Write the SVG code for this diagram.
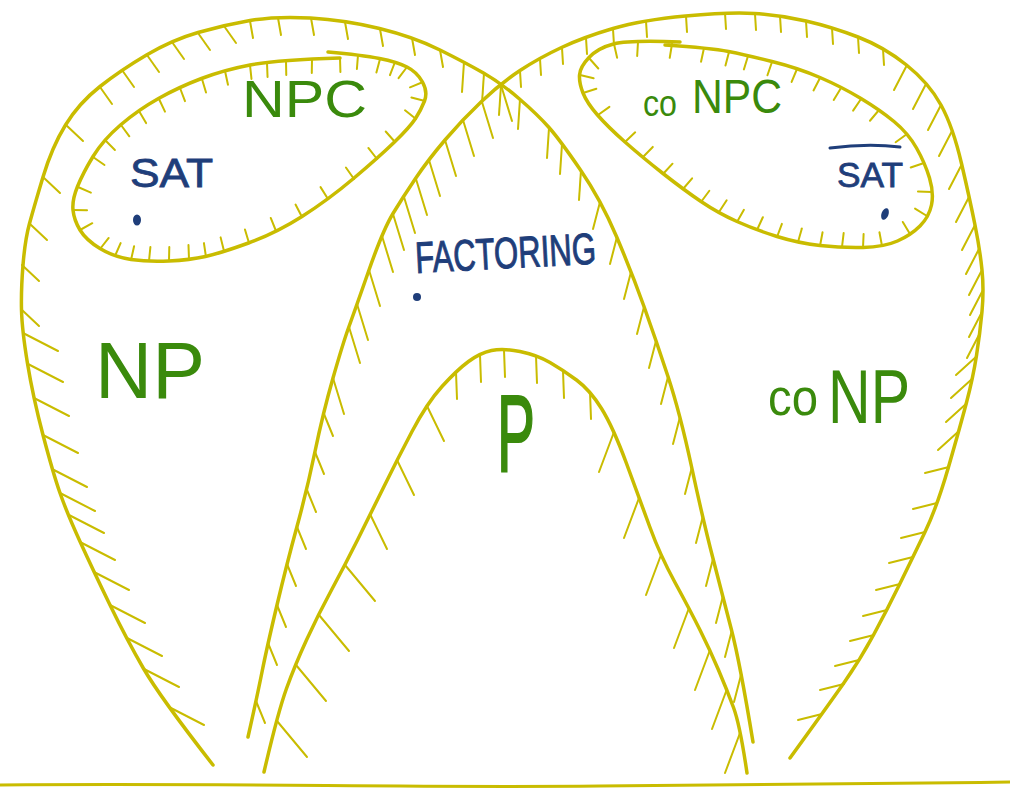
<svg xmlns="http://www.w3.org/2000/svg" width="1010" height="791" viewBox="0 0 1010 791">
<style>
.ol{fill:none;stroke:#c9bc00;stroke-width:3.5;stroke-linecap:round;stroke-linejoin:round}
.tk{fill:none;stroke:#c9bc00;stroke-width:2;stroke-linecap:round}
.hc{fill:none;stroke:none}
.gt{fill:#3a8a0c;font-family:'Liberation Sans',Arial,sans-serif}
.bt{fill:#1f3e7a;font-family:'Liberation Sans',Arial,sans-serif}
.bl{fill:none;stroke:#1f3e7a;stroke-width:3;stroke-linecap:round}
</style>
<defs>
<marker id="npL" markerUnits="userSpaceOnUse" overflow="visible"><path class="tk" d="M0,0L35,18"/></marker>
<marker id="npUL" markerUnits="userSpaceOnUse" overflow="visible"><path class="tk" d="M0,0L17,16"/></marker>
<marker id="npTa" markerUnits="userSpaceOnUse" overflow="visible"><path class="tk" d="M0,0L12,17"/></marker>
<marker id="npTb" markerUnits="userSpaceOnUse" overflow="visible"><path class="tk" d="M0,0L3,17"/></marker>
<marker id="npRU" markerUnits="userSpaceOnUse" overflow="visible"><path class="tk" d="M0,0L-2,30"/></marker>
<marker id="npR" markerUnits="userSpaceOnUse" overflow="visible"><path class="tk" d="M0,0L-7,27"/></marker>
<marker id="coL1" markerUnits="userSpaceOnUse" overflow="visible"><path class="tk" d="M0,0L9,22"/></marker>
<marker id="coL2" markerUnits="userSpaceOnUse" overflow="visible"><path class="tk" d="M0,0L11,36"/></marker>
<marker id="coT" markerUnits="userSpaceOnUse" overflow="visible"><path class="tk" d="M0,0L1,16"/></marker>
<marker id="coR1" markerUnits="userSpaceOnUse" overflow="visible"><path class="tk" d="M0,0L-13,25"/></marker>
<marker id="coR2" markerUnits="userSpaceOnUse" overflow="visible"><path class="tk" d="M0,0L-21,19"/></marker>
<marker id="coR3" markerUnits="userSpaceOnUse" overflow="visible"><path class="tk" d="M0,0L-24,6"/></marker>
<marker id="pL1" markerUnits="userSpaceOnUse" overflow="visible"><path class="tk" d="M0,0L30,36"/></marker>
<marker id="pL2" markerUnits="userSpaceOnUse" overflow="visible"><path class="tk" d="M0,0L17,35"/></marker>
<marker id="pT" markerUnits="userSpaceOnUse" overflow="visible"><path class="tk" d="M0,0L1,27"/></marker>
<marker id="pR" markerUnits="userSpaceOnUse" overflow="visible"><path class="tk" d="M0,0L-15,40"/></marker>
<marker id="inCW" markerUnits="userSpaceOnUse" overflow="visible" orient="auto"><path class="tk" d="M0,0L-1,14"/></marker>
<marker id="inCCW" markerUnits="userSpaceOnUse" overflow="visible" orient="auto"><path class="tk" d="M0,0L1,-14"/></marker>
</defs>

<g id="ground">
<path class="ol" style="stroke-width:3" d="M0,785 C250,783 400,788 600,786 S900,784 1010,782"/>
</g>

<g id="np">
<path class="ol" d="M213,765 Q160,697 143.5,668.5 Q127,640 110,605 Q93,570 80,541.5 Q67,513 60,493 Q53,473 43,435 Q33,397 27.5,363.5 Q22,330 21.5,310 Q21,290 23,265 Q25,240 29.5,223.5 Q34,207 43,177 Q52,147 65.5,125 Q79,103 100,86.5 Q121,70 146.5,55 Q172,40 198,32.5 Q224,25 250,20.5 Q276,16 310.5,18 Q345,20 379.5,28.5 Q414,37 440,50 Q466,63 483.5,73 Q501,83 519.5,99 Q538,115 549,127.5 Q560,140 580.5,170 Q601,200 616.5,236.5 Q632,273 644,306.5 Q656,340 668,376.5 Q680,413 691.5,466.5 Q703,520 713,558.5 Q723,597 731.5,630 Q740,663 753,742"/>
<path class="hc" marker-mid="url(#npL)" d="M213,765 L169,707 L144,669 L127,638 L110,605 L94,572 L80,542 L69,515 L60,493 L52,469 L43,435 L34,398 L28,364 L23,333 L22,310"/>
<path class="hc" marker-mid="url(#npUL)" d="M23,333 L22,310 L22,265 L30,224 L43,177 L66,125 L100,87"/>
<path class="hc" marker-mid="url(#npTa)" d="M66,125 L100,87 L122,70 L147,55 L172,42 L198,33 L224,26 L250,21"/>
<path class="hc" marker-mid="url(#npTb)" d="M224,26 L250,21 L278,18 L311,18 L345,22 L380,29 L412,38 L440,50 L464,62"/>
<path class="hc" marker-mid="url(#npRU)" d="M440,50 L464,62 L484,73 L501,85 L520,99 L549,128 L562,144 L581,170 L600,202"/>
<path class="hc" marker-mid="url(#npR)" d="M581,170 L600,202 L617,237 L631,272 L644,307 L656,341 L668,377 L680,417 L692,467 L703,516 L713,559 L723,596 L732,630 L741,675 L753,742"/>
<text class="gt" x="95" y="398" font-size="80" textLength="110" lengthAdjust="spacingAndGlyphs">NP</text>
</g>

<g id="conp">
<path class="ol" d="M248,737 Q257,697 262,672 Q267,647 277,605 Q287,563 297,526.5 Q307,490 315,451.5 Q323,413 333,378 Q343,343 349,326.5 Q355,310 369,270 Q383,230 393,213.5 Q403,197 415.5,178.5 Q428,160 445,140 Q462,120 481.5,101.5 Q501,83 520,70.5 Q539,58 561.5,47.5 Q584,37 613,28.5 Q642,20 685.5,16 Q729,12 754.5,13.5 Q780,15 806,21 Q832,27 858,37 Q884,47 906.5,65 Q929,83 941,105 Q953,127 961.5,163.5 Q970,200 975,225 Q980,250 982,270 Q984,290 982,311.5 Q980,333 976.5,355.5 Q973,378 966.5,402.5 Q960,427 948.5,467 Q937,507 925,532 Q913,557 900,583.5 Q887,610 873.5,635 Q860,660 843.5,683.5 Q827,707 790,758"/>
<path class="hc" marker-mid="url(#coL1)" d="M248,737 L256,701 L268,643 L277,605 L287,564 L297,527 L307,490 L315,452 L324,414 L333,378"/>
<path class="hc" marker-mid="url(#coL2)" d="M324,414 L333,378 L349,327 L357,304 L369,270 L382,236 L393,214 L404,197 L416,179 L429,160 L445,140 L463,120 L482,102 L501,85 L520,71"/>
<path class="hc" marker-mid="url(#coT)" d="M501,85 L520,71 L540,59 L562,48 L586,38 L613,29 L646,21 L686,16 L725,13 L755,14 L780,16 L806,21 L832,28 L858,37 L883,49 L907,65"/>
<path class="hc" marker-mid="url(#coR1)" d="M883,49 L907,65 L926,84 L941,105 L952,131 L962,164 L969,197 L975,225 L979,249 L982,270 L983,290 L982,312 L980,333 L977,356"/>
<path class="hc" marker-mid="url(#coR2)" d="M980,333 L977,356 L972,379 L967,403 L959,431 L949,467"/>
<path class="hc" marker-mid="url(#coR3)" d="M959,431 L949,467 L937,503 L925,532 L913,557 L900,584 L887,610 L874,635 L859,660 L844,684 L822,714 L790,758"/>
<text class="gt" x="768" y="415" font-size="52" textLength="50" lengthAdjust="spacingAndGlyphs">co</text>
<text class="gt" x="828" y="423" font-size="76" textLength="82" lengthAdjust="spacingAndGlyphs">NP</text>
</g>

<g id="p">
<path class="ol" d="M264,772 Q278,712 286.5,688.5 Q295,665 306.5,640 Q318,615 331.5,590 Q345,565 357.5,540 Q370,515 383.5,487.5 Q397,460 412,431.5 Q427,403 442,386.5 Q457,370 468.5,361.5 Q480,353 491.5,350.5 Q503,348 520,351.5 Q537,355 550,362.5 Q563,370 576.5,380 Q590,390 601.5,408.5 Q613,427 626.5,463.5 Q640,500 650,527.5 Q660,555 675,582.5 Q690,610 700,630 Q710,650 718.5,670 Q727,690 733.5,707.5 Q740,725 747,773"/>
<path class="hc" marker-mid="url(#pL1)" d="M264,772 L277,721 L296,665 L319,615 L345,565 L370,514"/>
<path class="hc" marker-mid="url(#pL2)" d="M345,565 L370,514 L397,460 L427,406 L456,372"/>
<path class="hc" marker-mid="url(#pT)" d="M427,406 L456,372 L480,355 L504,350 L536,356 L563,371 L590,392 L614,432"/>
<path class="hc" marker-mid="url(#pR)" d="M590,392 L614,432 L639,498 L661,555 L689,608 L710,650 L727,689 L740,733 L747,773"/>
<text class="gt" x="497" y="471" font-size="110" textLength="38" lengthAdjust="spacingAndGlyphs" stroke="#3a8a0c" stroke-width="2">P</text>
</g>

<g id="npc">
<path class="ol" d="M328,52 Q362,55 379.5,58.5 Q397,62 407,67 Q417,72 422.5,82 Q428,92 424.5,101 Q421,110 415.5,118.5 Q410,127 394.5,142 Q379,157 353.5,178.5 Q328,200 302,216.5 Q276,233 248.5,243 Q221,253 205.5,256.5 Q190,260 169,261 Q148,262 131,259.5 Q114,257 100,248.5 Q86,240 80,230 Q74,220 73,210 Q72,200 77.5,186.5 Q83,173 93,156.5 Q103,140 120.5,125 Q138,110 158.5,98.5 Q179,87 201.5,78.5 Q224,70 250,65 Q276,60 340,58"/>
<path class="hc" marker-mid="url(#inCW)" d="M312,59 L340,58 L358,55 L380,59 L395,62 L407,67 L423,82 L425,101 L416,119 L395,142 L377,159 L354,179 L328,199 L302,217 L276,231 L249,243 L224,251 L206,257 L189,259 L169,261 L149,261 L131,260 L115,256 L100,249 L80,230 L73,210 L78,187 L93,157 L105,140 L121,125 L139,111 L159,99 L180,88 L202,79 L225,71 L250,65 L267,63 L286,61 L312,59 L340,58"/>
<text class="gt" x="242" y="117" font-size="52" textLength="125" lengthAdjust="spacingAndGlyphs">NPC</text>
</g>

<g id="conpc">
<path class="ol" d="M680,42 Q629,40 613.5,44 Q598,48 589,57.5 Q580,67 579.5,75 Q579,83 583,93 Q587,103 597.5,115 Q608,127 625,142 Q642,157 663,173.5 Q684,190 701,201.5 Q718,213 737,221.5 Q756,230 777,236.5 Q798,243 820,245.5 Q842,248 863,247.5 Q884,247 897.5,241 Q911,235 920,226 Q929,217 931.5,205 Q934,193 929.5,178 Q925,163 916.5,148 Q908,133 894,121.5 Q880,110 861,98.5 Q842,87 820,77.5 Q798,68 772,61.5 Q746,55 728.5,51.5 Q711,48 665,45"/>
<path class="hc" marker-mid="url(#inCCW)" d="M729,52 L704,48 L672,44 L638,42 L614,44 L589,58 L580,75 L583,93 L598,115 L625,142 L643,157 L663,174 L683,189 L701,202 L719,212 L737,222 L757,230 L777,237 L798,242 L820,246 L842,247 L863,248 L882,246 L910,234 L927,216 L932,192 L924,163 L907,134 L879,110 L861,99 L841,88 L820,78 L797,69 L772,62 L748,56 L729,52 L704,48"/>
<text class="gt" x="643" y="116" font-size="36" textLength="34" lengthAdjust="spacingAndGlyphs">co</text>
<text class="gt" x="692" y="113" font-size="49" textLength="90" lengthAdjust="spacingAndGlyphs">NPC</text>
</g>

<g id="sat">
<text class="bt" x="130" y="187" font-size="40" textLength="83" lengthAdjust="spacingAndGlyphs" stroke="#1f3e7a" stroke-width="0.8">SAT</text>
<ellipse class="bt" cx="137" cy="220" rx="4" ry="5.5"/>
</g>

<g id="cosat">
<path class="bl" d="M830,148 Q868,143 900,147"/>
<text class="bt" x="837" y="187" font-size="35" textLength="66" lengthAdjust="spacingAndGlyphs" stroke="#1f3e7a" stroke-width="0.8">SAT</text>
<ellipse class="bt" cx="885" cy="214" rx="3.5" ry="6" transform="rotate(20 885 214)"/>
</g>

<g id="factoring">
<text class="bt" x="416" y="273" font-size="44" textLength="181" lengthAdjust="spacingAndGlyphs" stroke="#1f3e7a" stroke-width="1" transform="rotate(-3 416 273)">FACTORING</text>
<circle class="bt" cx="417" cy="297" r="4"/>
</g>
</svg>
